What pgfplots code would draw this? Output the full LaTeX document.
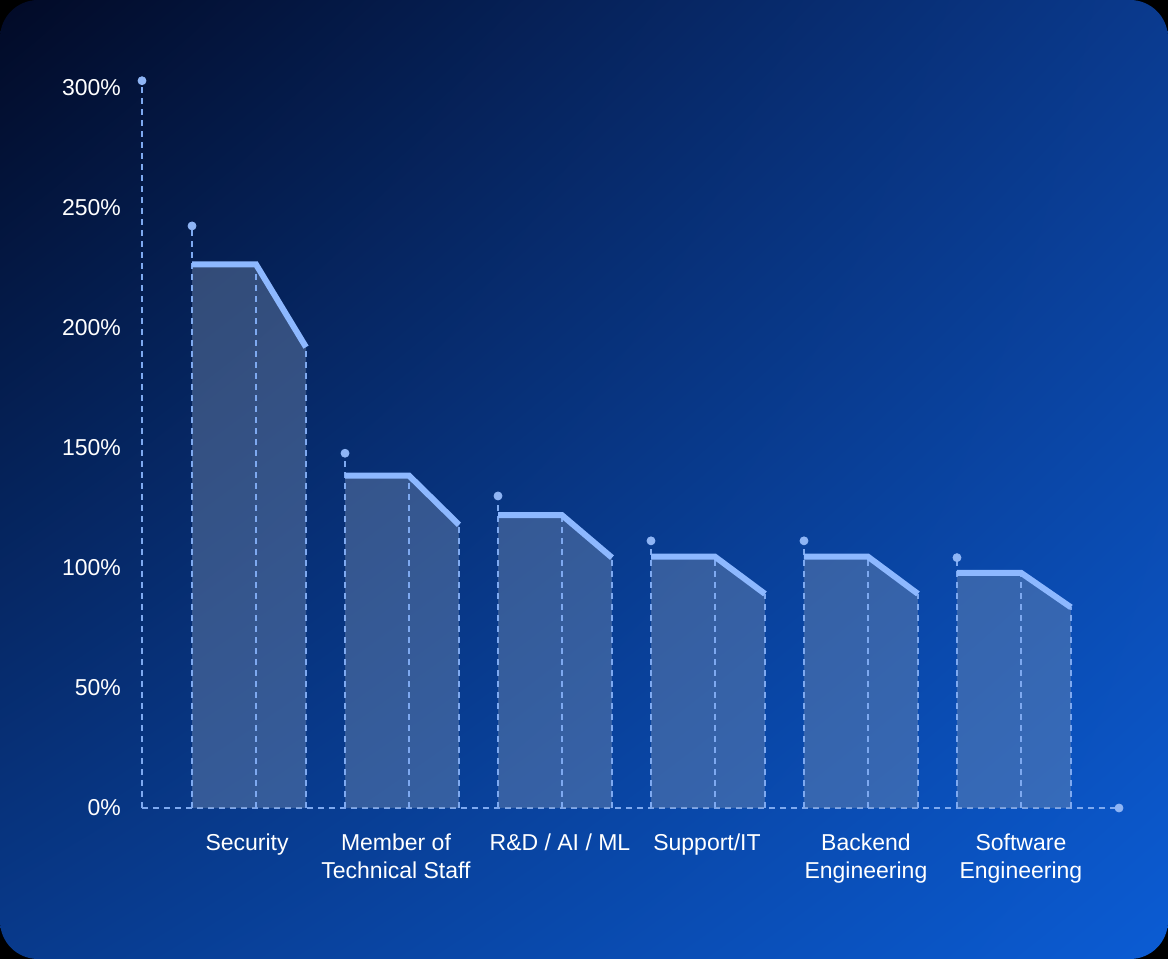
\documentclass[border=0pt]{standalone}
\usepackage{pgfplots}
\pgfplotsset{compat=1.18}
\usetikzlibrary{shadings}
\usepackage{fontspec}
\setmainfont{Liberation Sans}
\definecolor{bgUL}{HTML}{020A26}
\definecolor{bgUR}{HTML}{0A3A8E}
\definecolor{bgLL}{HTML}{083A8C}
\definecolor{bgLR}{HTML}{0B5CD4}
\definecolor{barfill}{HTML}{7A8FB0}
\definecolor{topline}{HTML}{8DB8FF}
\definecolor{dashc}{HTML}{7EA9F0}
\definecolor{dotc}{HTML}{8FB5F5}
\begin{document}
\begin{tikzpicture}
\fill[black] (0,0) rectangle (584pt,479.5pt);
\shade[rounded corners=19pt, upper left=bgUL, upper right=bgUR, lower left=bgLL, lower right=bgLR] (0,0) rectangle (584pt,479.5pt);
\begin{axis}[
  at={(71pt,75.5pt)}, anchor=south west,
  scale only axis, width=488.5pt, height=364pt,
  xmin=-0.327, xmax=6.059, ymin=0, ymax=303.3,
  clip=false,
  axis line style={draw=none},
  major tick length=0pt,
  ytick={0,50,100,150,200,250,300},
  yticklabel={\pgfmathprintnumber{\tick}\%},
  /pgf/number format/assume math mode=true,
  yticklabel style={xshift=-7pt, text=white, font=\fontsize{11.5}{14}\selectfont},
  xtick={0.36,1.333,2.405,3.366,4.405,5.418},
  xticklabels={Security, {Member of\\Technical Staff}, {R\&D / AI / ML}, {Support/IT}, {Backend\\Engineering}, {Software\\Engineering}},
  xticklabel style={align=center, yshift=-9.5pt, text=white, font=\fontsize{11.5}{14}\selectfont},
  grid=none,
  dotstyle/.style={only marks, mark=*, mark size=2pt, color=dotc, mark options={draw=dotc, fill=dotc, solid}},
  vdash/.style={dashc, line width=0.75pt, dash pattern=on 3pt off 2.5pt, mark=none},
  tline/.style={topline, line width=3pt, line join=miter, mark=none},
]
% axes (dashed) with end dots
\addplot[vdash] coordinates {(-0.327,0) (-0.327,303)};
\addplot[vdash] coordinates {(-0.327,0) (6.059,0)};
\addplot[dotstyle] coordinates {(-0.327,303) (6.059,0)};

% fills
\addplot[draw=none, fill=barfill, fill opacity=0.4] coordinates {(0,0) (0,226.5) (0.418,226.5) (0.745,192) (0.745,0)} -- cycle;
\addplot[draw=none, fill=barfill, fill opacity=0.4] coordinates {(1,0) (1,138.5) (1.418,138.5) (1.745,118) (1.745,0)} -- cycle;
\addplot[draw=none, fill=barfill, fill opacity=0.4] coordinates {(2,0) (2,122) (2.418,122) (2.745,104.3) (2.745,0)} -- cycle;
\addplot[draw=none, fill=barfill, fill opacity=0.4] coordinates {(3,0) (3,104.7) (3.418,104.7) (3.745,89.2) (3.745,0)} -- cycle;
\addplot[draw=none, fill=barfill, fill opacity=0.4] coordinates {(4,0) (4,104.7) (4.418,104.7) (4.745,89.2) (4.745,0)} -- cycle;
\addplot[draw=none, fill=barfill, fill opacity=0.4] coordinates {(5,0) (5,98) (5.418,98) (5.745,83.6) (5.745,0)} -- cycle;

% dashed verticals
\addplot[vdash] coordinates {(0,0) (0,242.5)};
\addplot[vdash] coordinates {(0.418,0) (0.418,226.5)};
\addplot[vdash] coordinates {(0.745,0) (0.745,192)};
\addplot[vdash] coordinates {(1,0) (1,147.8)};
\addplot[vdash] coordinates {(1.418,0) (1.418,138.5)};
\addplot[vdash] coordinates {(1.745,0) (1.745,118)};
\addplot[vdash] coordinates {(2,0) (2,130)};
\addplot[vdash] coordinates {(2.418,0) (2.418,122)};
\addplot[vdash] coordinates {(2.745,0) (2.745,104.3)};
\addplot[vdash] coordinates {(3,0) (3,111.3)};
\addplot[vdash] coordinates {(3.418,0) (3.418,104.7)};
\addplot[vdash] coordinates {(3.745,0) (3.745,89.2)};
\addplot[vdash] coordinates {(4,0) (4,111.3)};
\addplot[vdash] coordinates {(4.418,0) (4.418,104.7)};
\addplot[vdash] coordinates {(4.745,0) (4.745,89.2)};
\addplot[vdash] coordinates {(5,0) (5,104.3)};
\addplot[vdash] coordinates {(5.418,0) (5.418,98)};
\addplot[vdash] coordinates {(5.745,0) (5.745,83.6)};

% top lines
\addplot[tline] coordinates {(0,226.5) (0.418,226.5) (0.745,192)};
\addplot[tline] coordinates {(1,138.5) (1.418,138.5) (1.745,118)};
\addplot[tline] coordinates {(2,122) (2.418,122) (2.745,104.3)};
\addplot[tline] coordinates {(3,104.7) (3.418,104.7) (3.745,89.2)};
\addplot[tline] coordinates {(4,104.7) (4.418,104.7) (4.745,89.2)};
\addplot[tline] coordinates {(5,98) (5.418,98) (5.745,83.6)};

% dots
\addplot[dotstyle] coordinates {(0,242.5) (1,147.8) (2,130) (3,111.3) (4,111.3) (5,104.3)};
\end{axis}
\pgfresetboundingbox
\path (0,0) rectangle (584pt,479.5pt);
\end{tikzpicture}
\end{document}
